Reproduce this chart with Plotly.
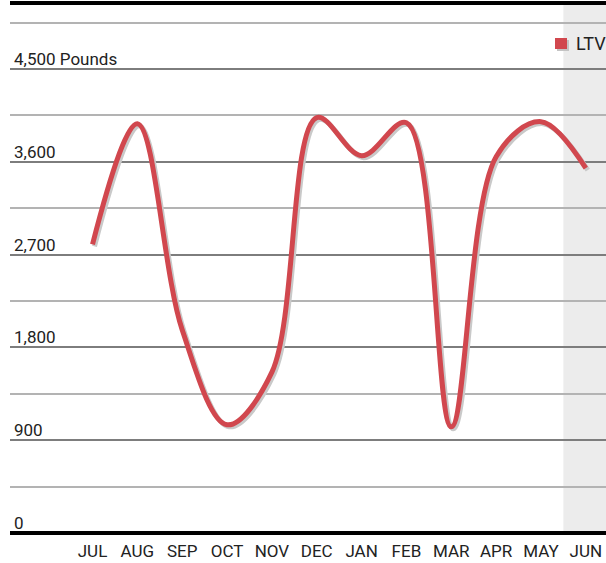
import plotly.graph_objects as go

# Monthly LTV values (pounds)
months = ["JUL", "AUG", "SEP", "OCT", "NOV", "DEC", "JAN", "FEB", "MAR", "APR", "MAY", "JUN"]
ltv = [2800, 3970, 1970, 1050, 1560, 4030, 3660, 3980, 1030, 3650, 3990, 3540]

y_ticks = [0, 900, 1800, 2700, 3600, 4500]
y_tick_text = ["0", "900", "1,800", "2,700", "3,600", "4,500 Pounds"]

RED = "#d1474e"
SHADOW = "#c9c9c9"
FONT = "Roboto"
TXT = "#222222"
SMOOTH = 1.0

# plot geometry (pixels)
W, H = 606, 563
ML, MR, MT, MB = 10, 0, 3, 30
pw, ph = W - ML - MR, H - MT - MB

x_range = [-1.84, 11.45]
y_range = [0, 5141]
px_x = (x_range[1] - x_range[0]) / pw
px_y = (y_range[1] - y_range[0]) / ph
dx, dy = 2, 2  # shadow offset in pixels

fig = go.Figure()

# soft drop shadow under the line, drawn on shifted overlay axes
fig.add_trace(go.Scatter(
    x=months, y=ltv, mode="lines", xaxis="x2", yaxis="y2",
    line=dict(color=SHADOW, width=5, shape="spline", smoothing=SMOOTH),
    hoverinfo="skip", showlegend=False,
))
fig.add_trace(go.Scatter(
    x=months, y=ltv, mode="lines", name="LTV", xaxis="x3", yaxis="y3",
    line=dict(color=RED, width=5, shape="spline", smoothing=SMOOTH),
    showlegend=False,
))

hidden = dict(visible=False, showgrid=False, zeroline=False, fixedrange=True)

fig.update_layout(
    width=W, height=H,
    margin=dict(l=ML, r=MR, t=MT, b=MB),
    paper_bgcolor="white", plot_bgcolor="white",
    font=dict(family=FONT, color=TXT),
    showlegend=False,
    xaxis=dict(
        type="category", categoryorder="array", categoryarray=months,
        range=x_range, showgrid=False, zeroline=False, showline=False,
        ticks="", ticklabelstandoff=6,
        tickfont=dict(size=17, family=FONT, color=TXT),
    ),
    # main y axis carries the gridlines; value labels are placed just above them
    yaxis=dict(
        range=y_range, tickvals=y_ticks, showticklabels=False, ticks="",
        showgrid=True, gridcolor="#7d7d7d", gridwidth=1.5,
        minor=dict(tick0=0, dtick=450, showgrid=True, gridcolor="#b3b3b3", gridwidth=1.5),
        zeroline=False, showline=False,
    ),
    xaxis2=dict(type="category", categoryorder="array", categoryarray=months,
                range=[x_range[0] - dx * px_x, x_range[1] - dx * px_x],
                overlaying="x", **hidden),
    yaxis2=dict(range=[y_range[0] + dy * px_y, y_range[1] + dy * px_y],
                overlaying="y", **hidden),
    xaxis3=dict(type="category", categoryorder="array", categoryarray=months,
                range=x_range, overlaying="x", **hidden),
    yaxis3=dict(range=y_range, overlaying="y", **hidden),
)

def px2paper_x(p):
    return (p - ML) / pw

def px2paper_y(p):
    return (H - MB - p) / ph

# value labels sitting on top of each major gridline
for v, t in zip(y_ticks, y_tick_text):
    fig.add_annotation(
        xref="paper", yref="y", x=px2paper_x(12), y=v,
        xanchor="left", yanchor="bottom", yshift=-2, showarrow=False,
        text=t, font=dict(size=17, family=FONT, color=TXT),
    )

shapes = [
    # shaded current month band
    dict(type="rect", xref="x", yref="paper", x0=10.5, x1=11.6, y0=0, y1=1,
         fillcolor="#ececec", line=dict(width=0), layer="below"),
    # heavy top and bottom rules
    dict(type="line", xref="paper", yref="paper", x0=0, x1=1, y0=1, y1=1,
         line=dict(color="black", width=4)),
    dict(type="line", xref="paper", yref="paper", x0=0, x1=1, y0=0, y1=0,
         line=dict(color="black", width=4)),
    # legend swatch with shadow
    dict(type="rect", xref="paper", yref="paper",
         x0=px2paper_x(557), x1=px2paper_x(569), y0=px2paper_y(51), y1=px2paper_y(40),
         fillcolor="#c4c4c4", line=dict(width=0)),
    dict(type="rect", xref="paper", yref="paper",
         x0=px2paper_x(555), x1=px2paper_x(567), y0=px2paper_y(49), y1=px2paper_y(38),
         fillcolor=RED, line=dict(width=0)),
]
fig.update_layout(shapes=shapes)

fig.add_annotation(
    xref="paper", yref="paper", x=px2paper_x(574), y=px2paper_y(43.5),
    xanchor="left", yanchor="middle", showarrow=False,
    text="LTV", font=dict(size=18, family=FONT, color=TXT),
)

fig.write_html("out.html")
